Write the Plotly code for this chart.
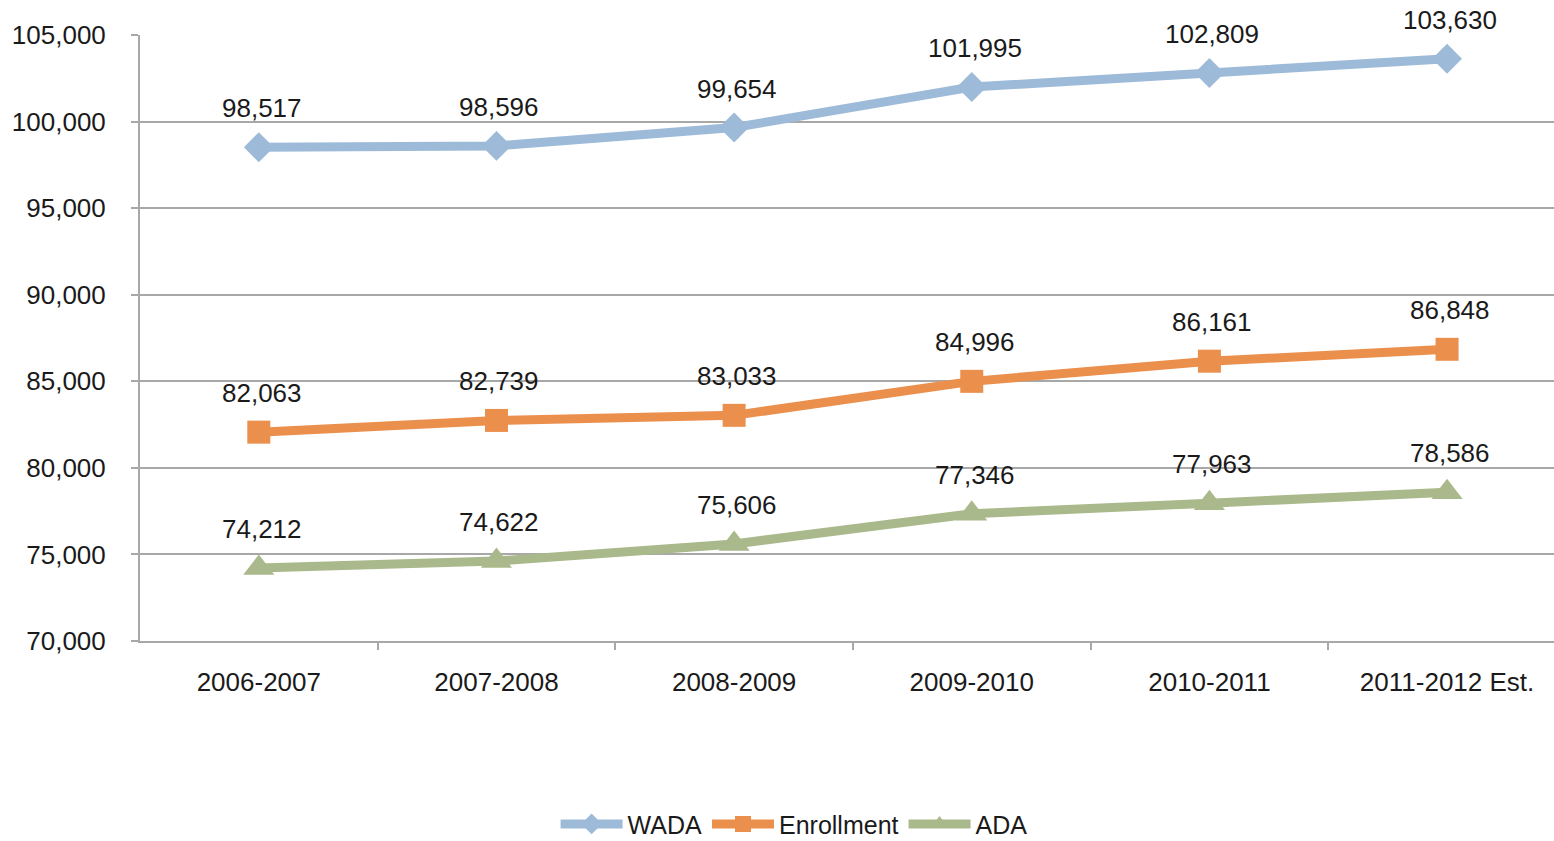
import plotly.graph_objects as go

years = ["2006-2007", "2007-2008", "2008-2009", "2009-2010", "2010-2011", "2011-2012 Est."]
wada = [98517, 98596, 99654, 101995, 102809, 103630]
enrollment = [82063, 82739, 83033, 84996, 86161, 86848]
ada = [74212, 74622, 75606, 77346, 77963, 78586]

series = [
    ("WADA", wada, "#9dbbd8", "diamond", 23),
    ("Enrollment", enrollment, "#eb8f4d", "square", 23),
    ("ADA", ada, "#a9b98b", "triangle-up", 27),
]

FONT = "Liberation Sans, Arial, Helvetica, sans-serif"
TEXT = "#1a1a1a"
GRID = "#a8a8a8"
FS = 26

fig = go.Figure()
annotations = []
for name, vals, color, symbol, size in series:
    fig.add_trace(go.Scatter(
        x=list(range(len(years))), y=vals, name=name,
        mode="lines+markers",
        line=dict(color=color, width=9),
        marker=dict(symbol=symbol, size=size, color=color, line=dict(width=0)),
    ))
    for i, v in enumerate(vals):
        annotations.append(dict(
            x=i, y=v, xref="x", yref="y", text=f"{v:,}", showarrow=False,
            yanchor="middle", xanchor="center", yshift=39, xshift=3,
            font=dict(family=FONT, size=FS, color=TEXT),
        ))

fig.update_layout(
    width=1554, height=841,
    margin=dict(l=140, r=0, t=35, b=200),
    paper_bgcolor="white", plot_bgcolor="white",
    font=dict(family=FONT, size=FS, color=TEXT),
    annotations=annotations,
    showlegend=True,
    legend=dict(
        orientation="h", xref="container", yref="container",
        x=0.511, y=0.02, xanchor="center", yanchor="middle",
        font=dict(family=FONT, size=25, color=TEXT),
        itemwidth=62, tracegroupgap=0,
    ),
)

fig.update_xaxes(
    range=[-0.5, 5.45],
    tickmode="array", tickvals=list(range(len(years))), ticktext=years,
    showgrid=False, zeroline=False,
    showline=True, linecolor=GRID, linewidth=2,
    ticks="", tickfont=dict(family=FONT, size=FS, color=TEXT),
    ticklabelstandoff=17,
)
# minor ticks mark the category boundaries
fig.update_xaxes(minor=dict(tickmode="array", tickvals=[k + 0.5 for k in range(5)],
                            ticks="outside", ticklen=7, tickcolor=GRID, tickwidth=2,
                            showgrid=False))

fig.update_yaxes(
    range=[70000, 105000], dtick=5000, tickformat=",d",
    showgrid=True, gridcolor=GRID, gridwidth=2,
    zeroline=False,
    showline=True, linecolor=GRID, linewidth=2,
    ticks="outside", ticklen=7, tickcolor=GRID, tickwidth=2,
    tickfont=dict(family=FONT, size=FS, color=TEXT),
    ticklabelstandoff=20,
)

fig.write_html("out.html")
